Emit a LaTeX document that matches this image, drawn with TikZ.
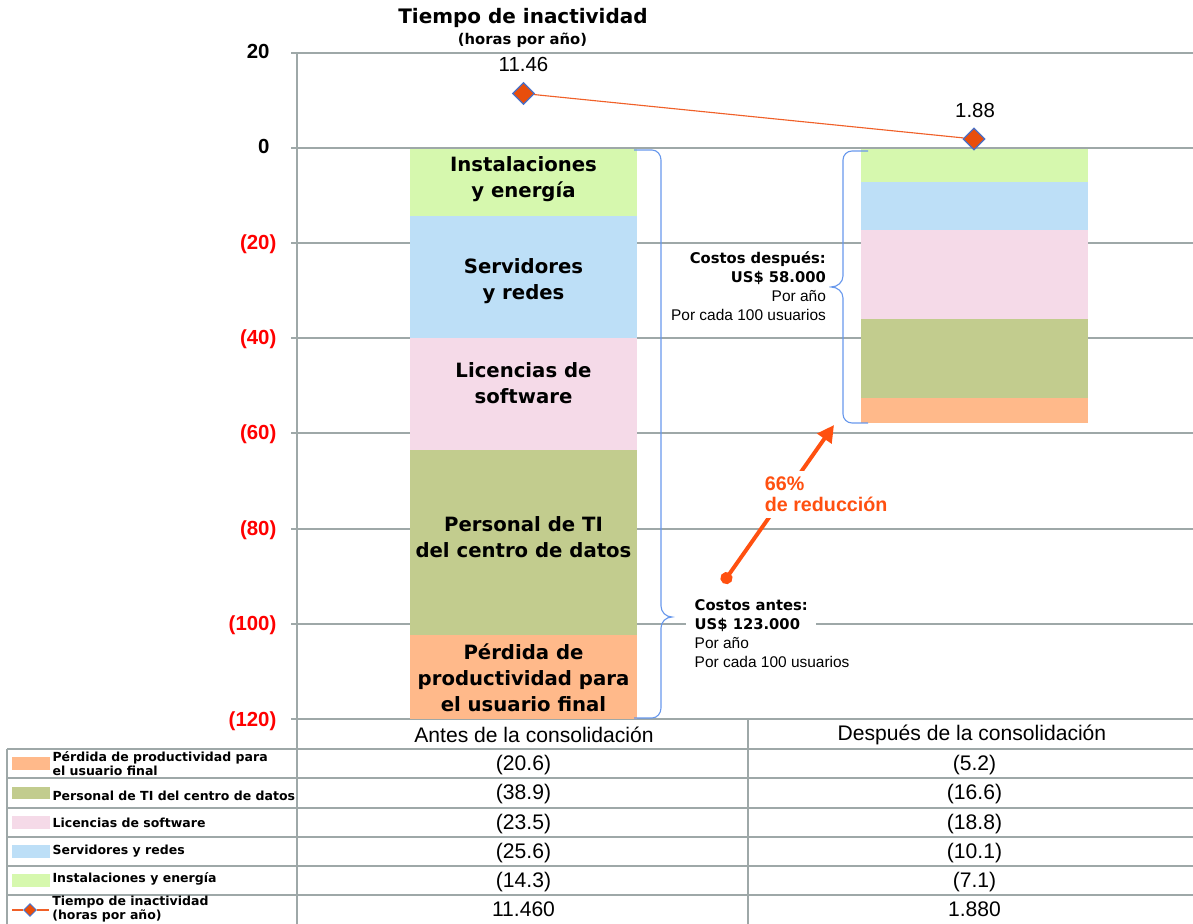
\documentclass[tikz,border=0pt]{standalone}
\usepackage{fontspec}
\setmainfont{Liberation Sans}
\newfontfamily\heavyfont{DejaVu Sans}
\usepackage{tikz}
\usetikzlibrary{arrows.meta,positioning,shapes.geometric}
\definecolor{instc}{RGB}{214,248,174}
\definecolor{servc}{RGB}{189,223,247}
\definecolor{licc}{RGB}{245,218,232}
\definecolor{persc}{RGB}{194,204,142}
\definecolor{perdc}{RGB}{255,185,138}
\definecolor{gridc}{RGB}{158,168,168}
\definecolor{bracec}{RGB}{104,152,236}
\definecolor{downc}{RGB}{240,96,40}
\definecolor{dmdc}{RGB}{232,78,12}
\definecolor{dmdb}{RGB}{72,112,200}
\definecolor{redarr}{RGB}{255,80,16}
\newcommand{\costhead}[1]{{\heavyfont\bfseries\fontsize{10.5}{13.5}\selectfont #1}}

\begin{document}
\begin{tikzpicture}[
  x=0.025cm, y=-0.025cm,
  every node/.style={inner sep=1pt},
  gridln/.style={draw=gridc, line width=0.9pt},
  ylab/.style={anchor=east, font=\bfseries\fontsize{14.5}{16}\selectfont},
  yneg/.style={ylab, text=red},
  barlab/.style={font=\heavyfont\bfseries\fontsize{14}{18.3}\selectfont, align=center},
  brc/.style={draw=bracec, line width=0.8pt},
  dmd/.style={shape=diamond, fill=dmdc, draw=dmdb, line width=0.8pt,
              minimum size=5.5mm, inner sep=0pt},
  downline/.style={draw=downc, line width=0.8pt},
  cost/.style={font=\fontsize{11}{13.5}\selectfont, fill=white, inner sep=2pt},
  redarrow/.style={{Circle[length=3mm]}-{Triangle[length=4.2mm, width=4.2mm]},
                   redarr, line width=2.8pt},
  redlab/.style={font=\bfseries\fontsize{14}{15}\selectfont, text=redarr,
                 fill=white, align=left, inner sep=4pt, anchor=west},
  colhead/.style={font=\fontsize{15}{18}\selectfont},
  cell/.style={font=\fontsize{15}{18}\selectfont},
  swatch/.style={minimum width=9.5mm, minimum height=3mm, inner sep=0pt},
  keytext/.style={font=\heavyfont\bfseries\fontsize{8.9}{8.6}\selectfont,
                  align=left, inner sep=0pt},
]
\useasboundingbox (0,0) rectangle (1193,924);

% grid and axis
\draw[gridln] (291,53) -- (1193,53);
\draw[gridln] (291,148) -- (1193,148);
\draw[gridln] (291,243) -- (1193,243);
\draw[gridln] (291,338) -- (1193,338);
\draw[gridln] (291,433) -- (1193,433);
\draw[gridln] (291,529) -- (1193,529);
\draw[gridln] (291,624) -- (1193,624);
\draw[gridln] (291,719) -- (1193,719);
\draw[gridln] (297,53) -- (297,924);

\node[ylab] (y20) at (278,53) {20\phantom{)}};
\node[ylab] (y0) at (278,148) {0\phantom{)}};
\node[yneg] (ym20) at (278,244) {(20)};
\node[yneg] (ym40) at (278,339) {(40)};
\node[yneg] (ym60) at (278,434) {(60)};
\node[yneg] (ym80) at (278,530) {(80)};
\node[yneg] (ym100) at (278,625) {(100)};
\node[yneg] (ym120) at (278,721) {(120)};

% before
\fill[instc] (410,149) rectangle (637,216);
\fill[servc] (410,216) rectangle (637,338);
\fill[licc]  (410,338) rectangle (637,450);
\fill[persc] (410,450) rectangle (637,635);
\fill[perdc] (410,635) rectangle (637,719);
\node[barlab] (inst1) at (523.5,179) {Instalaciones\\y energía};
\node[barlab] (serv1) at (523.5,281) {Servidores\\y redes};
\node[barlab] (lic1)  at (523.5,383) {Licencias de\\software};
\node[barlab] (pers1) at (523.5,537) {Personal de TI\\del centro de datos};
\node[barlab] (perd1) at (523.5,678) {Pérdida de\\productividad para\\el usuario final};

% after
\fill[instc] (861,149) rectangle (1088,182);
\fill[servc] (861,182) rectangle (1088,230);
\fill[licc]  (861,230) rectangle (1088,319);
\fill[persc] (861,319) rectangle (1088,398);
\fill[perdc] (861,398) rectangle (1088,423);

% braces
\draw[brc] (634,150) -- (652,150) to[out=0, in=90] (661,160) -- (661,606)
           to[out=-90, in=180] (672,617) to[out=180, in=90] (661,628)
           -- (661,708) to[out=-90, in=0] (652,718) -- (634,718);
\draw[brc] (868,151) -- (852,151) to[out=180, in=90] (843,160) -- (843,276)
           to[out=-90, in=0] (831,287) to[out=0, in=90] (843,298)
           -- (843,414) to[out=-90, in=180] (852,423) -- (868,423);

\node[cost, anchor=west, align=left, inner xsep=6pt] (before) at (686,634) {%
  \costhead{Costos antes:}\\\costhead{US\$ 123.000}\\Por año\\\rlap{Por cada 100 usuarios}};
\node[cost, anchor=east, align=right] (after) at (829,286.5) {%
  \costhead{Costos después:}\\\costhead{US\$ 58.000}\\Por año\\Por cada 100 usuarios};

% reduction
\coordinate (redfrom) at (723,583);
\coordinate (redto) at (834,425);
\draw[redarrow] (redfrom) -- (redto);
\node[redlab] (red) at (759,494.5) {66\%\\de reducción};

% downtime
\node[font=\heavyfont\bfseries\fontsize{14.2}{16}\selectfont] (title) at (523,18) {Tiempo de inactividad};
\node[font=\heavyfont\bfseries\fontsize{10.5}{12}\selectfont] (sub) at (522.5,40) {(horas por año)};
\node[dmd] (d1) at (523.5,93.5) {};
\node[dmd] (d2) at (974,139) {};
\draw[downline] (d1) -- (d2);
\node[font=\fontsize{14.5}{16}\selectfont] (v1) at (523.5,64.5) {11.46};
\node[font=\fontsize{14.5}{16}\selectfont] (v2) at (975,110) {1.88};

% table
\draw[gridln] (7,749) -- (1193,749);
\draw[gridln] (7,778) -- (1193,778);
\draw[gridln] (7,808) -- (1193,808);
\draw[gridln] (7,837) -- (1193,837);
\draw[gridln] (7,866) -- (1193,866);
\draw[gridln] (7,895) -- (1193,895);
\draw[gridln] (7,749) -- (7,924);
\draw[gridln] (748,719) -- (748,924);

\node[colhead] (hbefore) at (534,735) {Antes de la consolidación};
\node[colhead] (hafter) at (972,735) {Después de la consolidación};

\node[swatch, fill=perdc] (k1) at (31,763.5) {};
\node[keytext, right=0.5mm of k1] (k1t) {Pérdida de productividad para\\el usuario final};
\node[swatch, fill=persc] (k2) at (31,793) {};
\node[keytext, right=0.5mm of k2, yshift=-2pt] (k2t) {Personal de TI del centro de datos};
\node[swatch, fill=licc] (k3) at (31,822.5) {};
\node[keytext, right=0.5mm of k3] (k3t) {Licencias de software};
\node[swatch, fill=servc] (k4) at (31,851.5) {};
\node[keytext, right=0.5mm of k4] (k4t) {Servidores y redes};
\node[swatch, fill=instc] (k5) at (31,880.5) {};
\node[keytext, right=0.5mm of k5, yshift=1pt] (k5t) {Instalaciones y energía};
\node[dmd, minimum size=3.2mm, line width=0.6pt] (k6) at (30,910) {};
\coordinate (k6a) at (12,910);
\coordinate (k6b) at (49,910);
\draw[downline] (k6a) -- (k6) -- (k6b);
\node[keytext, anchor=west] (k6t) at (52,909) {Tiempo de inactividad\\(horas por año)};

\node[cell] (b1) at (523.5,765) {(20.6)};
\node[cell] (b2) at (523.5,794.5) {(38.9)};
\node[cell] (b3) at (523.5,824) {(23.5)};
\node[cell] (b4) at (523.5,853) {(25.6)};
\node[cell] (b5) at (523.5,882) {(14.3)};
\node[cell] (b6) at (523.5,909.5) {11.460};
\node[cell] (a1) at (974.5,765) {(5.2)};
\node[cell] (a2) at (974.5,794.5) {(16.6)};
\node[cell] (a3) at (974.5,824) {(18.8)};
\node[cell] (a4) at (974.5,853) {(10.1)};
\node[cell] (a5) at (974.5,882) {(7.1)};
\node[cell] (a6) at (974.5,909.5) {1.880};
\end{tikzpicture}
\end{document}
